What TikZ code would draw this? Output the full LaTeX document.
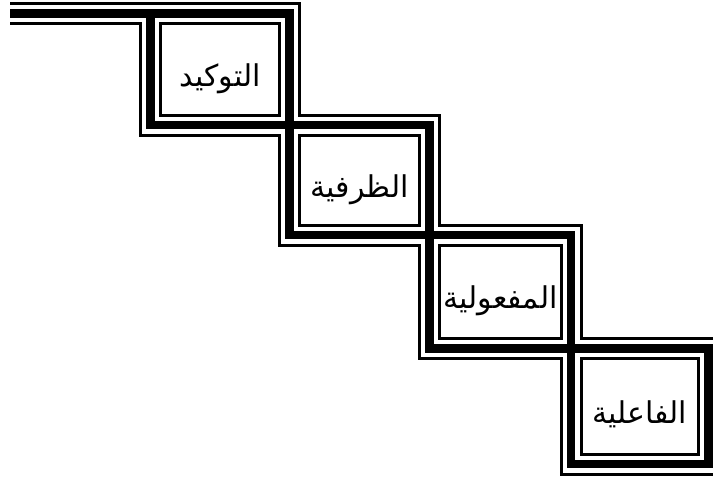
\documentclass[tikz,border=0pt]{standalone}
\usepackage{fontspec}
\usetikzlibrary{calc}
\newfontfamily\arabicfont[Script=Arabic]{DejaVu Sans}
\TeXXeTstate=1
\tikzset{
  lbl/.style={font=\arabicfont\fontsize{30}{34}\selectfont, inner sep=0pt, anchor=base},
}
\begin{document}
\begin{tikzpicture}[x=1pt,y=-1pt]
\useasboundingbox (0,0) rectangle (713,477);
\clip (0,0) rectangle (713,477);
\coordinate (s) at (10,13.7);
\coordinate (c0) at (150.5,13.7);
\coordinate (c1) at (289.7,125);
\coordinate (c2) at (429.7,235);
\coordinate (c3) at (571,348.3);
\coordinate (c4) at (708.5,464);
\foreach \w/\col in {23/black,17/white,8.5/black}{
  \draw[line width=\w pt, draw=\col, line join=miter]
    (s) -- (c0)
    (c0) rectangle (c1)
    (c1) rectangle (c2)
    (c2) rectangle (c3)
    (c3) rectangle (c4);
}
\node[lbl] (t1) at ($(c0)!0.5!(c1)+(0,17)$) {\beginR التوكيد\endR};
\node[lbl] (t2) at ($(c1)!0.5!(c2)+(0,17)$) {\beginR الظرفية\endR};
\node[lbl] (t3) at ($(c2)!0.5!(c3)+(0,17)$) {\beginR المفعولية\endR};
\node[lbl] (t4) at ($(c3)!0.5!(c4)+(0,17)$) {\beginR الفاعلية\endR};
\end{tikzpicture}
\end{document}
